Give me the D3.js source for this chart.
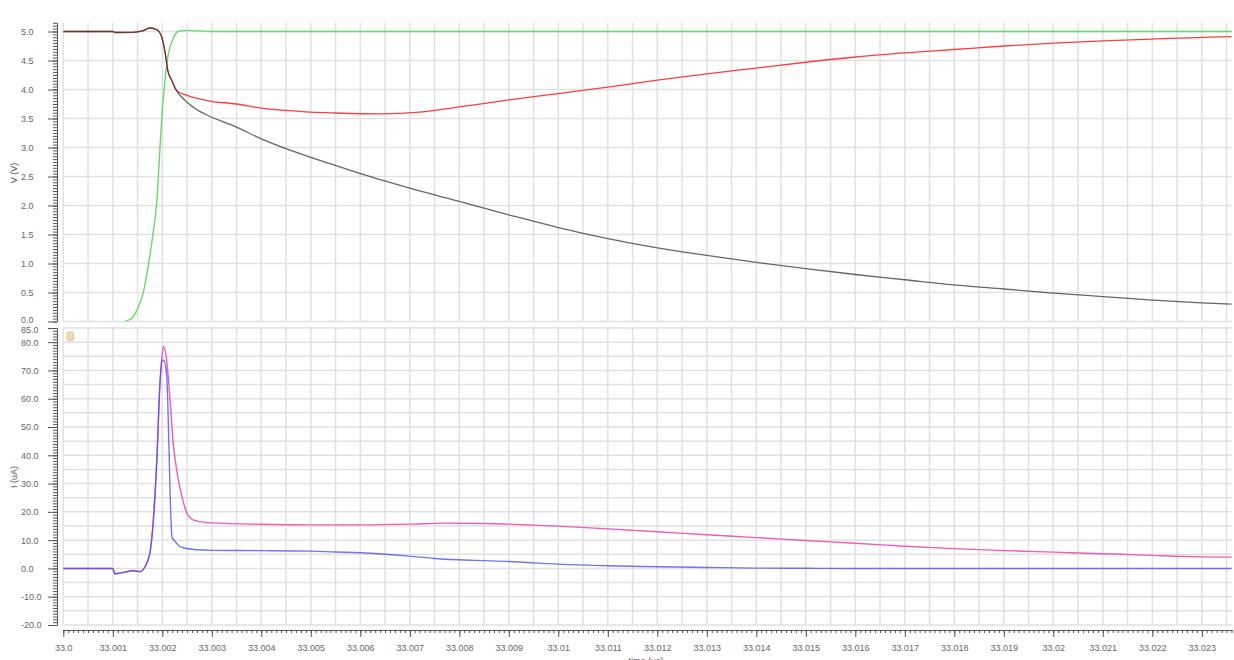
<!DOCTYPE html>
<html>
<head>
<meta charset="utf-8">
<script src="https://cdn.jsdelivr.net/npm/d3@7"></script>
<style>
  html, body { margin: 0; padding: 0; background: #fff; }
  svg { display: block; }
  text { font-family: "Liberation Sans", Arial, sans-serif; }
</style>
</head>
<body>
<svg id="chart" width="1234" height="660"></svg>
<script>
// ---- data (time in us) ----
const xTickLabels = ["33.0","33.001","33.002","33.003","33.004","33.005","33.006","33.007",
  "33.008","33.009","33.01","33.011","33.012","33.013","33.014","33.015","33.016","33.017",
  "33.018","33.019","33.02","33.021","33.022","33.023"];
const vTickLabels = ["0.0","0.5","1.0","1.5","2.0","2.5","3.0","3.5","4.0","4.5","5.0"];
const iTickLabels = ["-20.0","-10.0","0.0","10.0","20.0","30.0","40.0","50.0","60.0","70.0","80.0","85.0"];

// voltage traces (V)
const vDark = [[33.0,5.0],[33.001,5.0],[33.00105,4.983],[33.0014,4.985],[33.0016,5.01],[33.00175,5.06],
  [33.00189,5.03],[33.00199,4.9],[33.00206,4.62],[33.00211,4.33],[33.00219,4.16],[33.00229,3.98],
  [33.0025,3.78],[33.0027,3.65],[33.0029,3.56],[33.0035,3.35],[33.004,3.15],[33.0045,2.98],
  [33.005,2.83],[33.0055,2.69],[33.006,2.55],[33.007,2.30],[33.008,2.07],[33.009,1.84],
  [33.010,1.62],[33.011,1.43],[33.012,1.27],[33.013,1.14],[33.014,1.02],[33.015,0.91],
  [33.016,0.81],[33.017,0.72],[33.018,0.63],[33.019,0.56],[33.020,0.49],[33.021,0.43],
  [33.022,0.37],[33.023,0.32],[33.0236,0.30]];
const vRed = [[33.0,5.0],[33.001,5.0],[33.00105,4.983],[33.0014,4.985],[33.0016,5.01],[33.00175,5.06],
  [33.00189,5.03],[33.00199,4.9],[33.00206,4.62],[33.00211,4.33],[33.00219,4.16],[33.00229,3.98],
  [33.0025,3.9],[33.0029,3.81],[33.0035,3.75],[33.004,3.68],[33.0045,3.64],[33.005,3.61],
  [33.0055,3.595],[33.0064,3.58],[33.0072,3.61],[33.008,3.70],[33.009,3.82],[33.010,3.93],
  [33.011,4.04],[33.012,4.16],[33.013,4.27],[33.014,4.37],[33.015,4.47],[33.016,4.56],
  [33.017,4.63],[33.018,4.69],[33.019,4.75],[33.020,4.80],[33.021,4.84],[33.022,4.87],
  [33.023,4.90],[33.0236,4.91]];
const vGreen = [[33.00115,-0.1],[33.00125,0.0],[33.00138,0.05],[33.0015,0.22],[33.00161,0.48],
  [33.00171,0.93],[33.00181,1.5],[33.00189,2.08],[33.00195,2.95],[33.002,3.64],[33.00206,4.2],
  [33.00212,4.6],[33.00222,4.88],[33.00232,5.0],[33.0025,5.02],[33.003,5.0],[33.0236,5.0]];

// current traces (uA)
const iBlue = [[33.0,0],[33.001,0],[33.00104,-1.9],[33.0012,-1.4],[33.00141,-0.7],[33.00155,-1.1],
  [33.00165,0.6],[33.00175,5.5],[33.00182,17.3],[33.00189,38.5],[33.00195,64.4],[33.00199,73.3],
  [33.00203,73.6],[33.00209,67.9],[33.00213,46],[33.00216,25],[33.00219,12],[33.0022,10.8],
  [33.00225,9.8],[33.0023,8.6],[33.00242,7.3],[33.0027,6.6],[33.003,6.4],[33.004,6.3],
  [33.005,6.1],[33.0055,5.8],[33.006,5.55],[33.007,4.35],[33.0075,3.53],[33.0083,2.83],
  [33.009,2.47],[33.010,1.52],[33.011,0.95],[33.012,0.6],[33.013,0.35],[33.014,0.12],
  [33.015,0.05],[33.016,0],[33.0236,0]];
const iPink = [[33.0,0],[33.001,0],[33.00104,-1.9],[33.0012,-1.5],[33.00141,-0.9],[33.00155,-1.2],
  [33.00165,0.6],[33.00175,5.5],[33.00182,17.3],[33.00189,38.5],[33.00195,64.4],[33.00199,74],
  [33.00202,78.5],[33.00209,73.3],[33.00216,58.6],[33.00222,44.4],[33.0023,33.8],[33.00241,24.4],
  [33.00253,18.5],[33.0027,16.7],[33.003,16.1],[33.004,15.6],[33.005,15.4],[33.006,15.4],
  [33.007,15.65],[33.0077,16.0],[33.0085,15.9],[33.009,15.65],[33.010,14.95],[33.011,14.0],
  [33.012,12.97],[33.013,11.9],[33.014,10.9],[33.015,9.85],[33.016,8.9],
  [33.017,7.85],[33.018,7.0],[33.019,6.3],[33.020,5.75],[33.021,5.2],[33.022,4.6],
  [33.023,4.1],[33.0236,4.0]];

// ---- layout ----
const svg = d3.select("#chart");
const plotL = 63.3, plotR = 1232;
const axisX = 57;
const x = d3.scaleLinear().domain([33.0, 33.02361]).range([plotL, plotR]);
const yV = d3.scaleLinear().domain([0, 5.15]).range([321.5, 22.8]);
const yI = d3.scaleLinear().domain([-20, 85]).range([625, 328]);

const gridColor = "#e1e1e1";
const axisColor = "#555";
const labelColor = "#666";

function grid(yScale, hVals) {
  const g = svg.append("g");
  const vVals = d3.range(0, 48).map(i => 33 + i * 0.0005);
  const [y0, y1] = yScale.range();
  g.selectAll("line.v").data(vVals).join("line")
    .attr("x1", d => x(d)).attr("x2", d => x(d))
    .attr("y1", y0).attr("y2", y1)
    .attr("stroke", gridColor).attr("stroke-width", 1.5);
  g.selectAll("line.h").data(hVals).join("line")
    .attr("x1", plotL).attr("x2", plotR)
    .attr("y1", d => yScale(d)).attr("y2", d => yScale(d))
    .attr("stroke", gridColor).attr("stroke-width", 1.5);
}
grid(yV, d3.range(0, 11).map(i => i * 0.5));
grid(yI, d3.range(-20, 90, 5));

// ---- y rulers ----
function yRuler(yScale, minorVals, majorVals, labels, nudge) {
  const g = svg.append("g").attr("transform", `translate(${axisX},0)`);
  g.append("g").call(d3.axisLeft(yScale).tickValues(minorVals).tickSize(4).tickSizeOuter(0).tickFormat(""));
  const maj = g.append("g").call(d3.axisLeft(yScale).tickValues(majorVals).tickSize(9).tickSizeOuter(0)
    .tickFormat((d, i) => labels[i]));
  g.selectAll("path.domain").attr("stroke", axisColor);
  g.selectAll(".tick line").attr("stroke", axisColor);
  maj.selectAll("text")
    .attr("text-anchor", "start").attr("x", 21 - axisX)
    .attr("y", d => nudge(d))
    .attr("fill", labelColor).style("font-size", "9px");
}
// the lowest voltage label and the highest current label sit close together; ease them apart
yRuler(yV, d3.range(0, 104).map(i => i * 0.05), d3.range(0, 11).map(i => i * 0.5), vTickLabels,
  d => d === 0 ? -1.5 : 0);
yRuler(yI, d3.range(-20, 86, 1), [-20,-10,0,10,20,30,40,50,60,70,80,85], iTickLabels,
  d => d === 85 ? 1.5 : 0);

// ---- x ruler ----
const xg = svg.append("g").attr("transform", "translate(0,630)");
xg.append("g").call(d3.axisBottom(x).tickValues(d3.range(0, 237).map(i => 33 + i * 0.0001))
  .tickSize(3).tickSizeOuter(0).tickFormat(""));
const xMaj = xg.append("g").call(d3.axisBottom(x).tickValues(d3.range(0, 24).map(i => 33 + i * 0.001))
  .tickSize(7).tickSizeOuter(0).tickPadding(8).tickFormat((d, i) => xTickLabels[i]));
xg.selectAll("path.domain").attr("stroke", axisColor);
xg.selectAll(".tick line").attr("stroke", axisColor);
xMaj.selectAll("text").attr("fill", labelColor).style("font-size", "9px");

// ---- axis titles ----
svg.append("text").attr("transform", "translate(17,173) rotate(-90)")
  .attr("text-anchor", "middle").attr("fill", "#555").style("font-size", "9px").text("V (V)");
svg.append("text").attr("transform", "translate(17,477) rotate(-90)")
  .attr("text-anchor", "middle").attr("fill", "#555").style("font-size", "9px").text("I (uA)");
svg.append("text").attr("x", 646).attr("y", 664)
  .attr("text-anchor", "middle").attr("fill", "#555").style("font-size", "9px").text("time (us)");

// ---- traces ----
const defs = svg.append("defs");
defs.append("clipPath").attr("id", "clipV").append("rect")
  .attr("x", plotL).attr("y", 22.8).attr("width", plotR - plotL).attr("height", 321.5 - 22.8);
defs.append("clipPath").attr("id", "clipI").append("rect")
  .attr("x", plotL).attr("y", 328).attr("width", plotR - plotL).attr("height", 625 - 328);

const lineV = d3.line().x(d => x(d[0])).y(d => yV(d[1])).curve(d3.curveMonotoneX);
const lineI = d3.line().x(d => x(d[0])).y(d => yI(d[1])).curve(d3.curveMonotoneX);

const gV = svg.append("g").attr("clip-path", "url(#clipV)");
gV.append("path").datum(vGreen).attr("d", lineV).attr("fill", "none")
  .attr("stroke", "#6ad86a").attr("stroke-width", 1.4);
gV.append("path").datum(vRed).attr("d", lineV).attr("fill", "none")
  .attr("stroke", "#ff3c3c").attr("stroke-width", 1.3);
gV.append("path").datum(vDark).attr("d", lineV).attr("fill", "none")
  .attr("stroke", "#333").attr("stroke-opacity", 0.75).attr("stroke-width", 1.3);

const gI = svg.append("g").attr("clip-path", "url(#clipI)");
gI.append("path").datum(iPink).attr("d", lineI).attr("fill", "none")
  .attr("stroke", "#ec5cb8").attr("stroke-width", 1.4);
gI.append("path").datum(iBlue).attr("d", lineI).attr("fill", "none")
  .attr("stroke", "#5050f0").attr("stroke-opacity", 0.8).attr("stroke-width", 1.4);

// small marker badge at the top-left of the current panel
svg.append("rect").attr("x", 67).attr("y", 332).attr("width", 6.5).attr("height", 8.5)
  .attr("rx", 1.5).attr("fill", "#f3d9b3").attr("stroke", "#dcb88e").attr("stroke-width", 0.8);
</script>
</body>
</html>
